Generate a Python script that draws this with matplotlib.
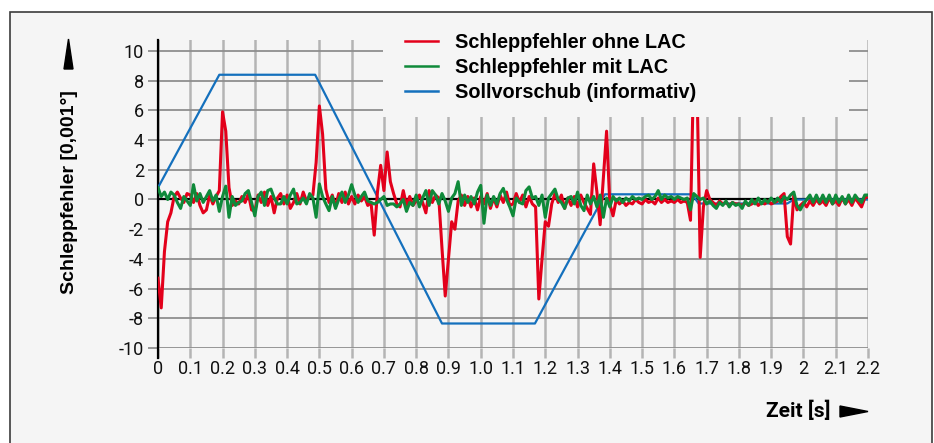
import numpy as np
import matplotlib
matplotlib.use('Agg')
import matplotlib.pyplot as plt
from matplotlib.patches import Rectangle, Polygon

plt.rcParams['axes.unicode_minus'] = False

# --- data --- #
t = np.round(np.arange(0, 2.201, 0.01), 2)

# Schleppfehler ohne LAC, one row per 0.1 s
err_ohne = [
    -5.3, -7.3, -3.5, -1.5, -0.9, 0.2, 0.5, 0.1, -0.2, 0.4,
    0.3, -0.2, 0.4, -0.4, -0.9, -0.7, 0.3, -0.3, 0.2, 0.6,
    5.9, 4.6, 0.8, -0.4, -0.1, -0.3, 0.2, -0.2, 0.4, -0.7,
    -0.8, 0.3, -0.2, 0.5, -0.4, 0.2, -0.9, 0.1, 0.4, -0.3,
    0.3, -0.6, -0.2, 0.4, -0.3, 0.5, -0.1, 0.2, 0.3, 2.5,
    6.3, 4.4, 0.7, -0.2, 0.3, -0.5, 0.4, -0.2, 0.5, -0.3,
    0.2, -0.3, 0.3, -0.1, 0.2, -0.4, -0.2, -2.4, 0.5, 2.3,
    0.6, 3.2, 1.2, 0.4, -0.3, -0.5, 0.6, -0.4, 0.2, -0.4,
    -0.1, 0.3, -0.2, -0.9, 0.6, -0.2, 0.3, 0.1, -3.3, -6.5,
    -4.0, -1.5, -2.0, -0.1, 0.3, -0.4, 0.2, -0.5, 0.1, -0.7,
    0.2, -0.3, 0.4, -0.6, 0.1, -0.5, 0.3, -0.2, 0.5, -0.4,
    -0.3, 0.4, -0.2, 0.3, -0.5, 0.2, -0.3, -0.5, -6.7, -4.0,
    -1.5, -1.8, -0.3, 0.4, -0.2, 0.3, -0.6, 0.1, -0.4, 0.2,
    -0.5, 0.3, -0.2, -0.6, -1.0, 2.4, 0.5, -1.7, 1.5, 4.6,
    -0.3, -1.1, 0.0, -0.3, -0.1, -0.4, -0.2, -0.3, 0.0, -0.2,
    -0.3, 0.0, -0.2, -0.1, -0.3, 0.1, -0.2, 0.0, -0.2, -0.1,
    -0.2, 0.0, -0.2, -0.1, -0.2, -1.4, 9.0, 8.0, -3.9, -0.5,
    0.6, 0.0, -0.2, -0.4, -0.1, -0.3, -0.2, -0.4, -0.2, -0.3,
    -0.3, -0.4, -0.2, -0.4, -0.3, -0.1, -0.4, -0.2, -0.3, -0.1,
    -0.3, -0.2, -0.1, 0.2, 0.4, -2.5, -3.0, 0.3, -0.7, -0.4,
    -0.2, -0.5, -0.1, -0.4, 0.0, -0.3, -0.1, -0.4, 0.1, -0.3,
    -0.1, -0.4, 0.1, -0.3, 0.0, -0.4, 0.1, -0.2, -0.5, 0.1,
    0.2,
]

# Schleppfehler mit LAC
err_mit = [
    0.8, 0.2, 0.5, 0.0, 0.5, 0.3, -0.2, -0.6, 0.2, -0.1,
    -0.4, 1.0, -0.1, 0.4, -0.2, 0.2, 0.6, -0.1, 0.3, -0.8,
    0.2, 0.9, -1.2, 0.2, -0.4, -0.2, -0.1, 0.4, 0.6, -0.2,
    -1.1, 0.2, 0.5, -0.4, 0.6, 0.7, 0.1, -0.3, -0.3, 0.2,
    -0.3, 0.3, 0.7, -0.3, -0.2, 0.1, -0.3, 0.4, 0.1, -1.2,
    1.05, 0.2, -0.3, -0.75, 0.2, -0.6, 0.0, 0.5, -0.2, 0.3,
    1.0, 0.3, -0.2, 0.2, 0.5, -0.1, -0.2, -0.3, -0.2, 0.0,
    0.2, -0.4, -0.3, -0.3, -0.5, -0.3, 0.0, -0.8, -0.2, -0.4,
    0.3, -0.5, 0.1, 0.6, -0.4, 0.6, 0.3, -0.3, 0.4, -0.1,
    -0.8, 0.1, 0.4, 1.2, -0.4, 0.3, -0.2, 0.2, -0.3, 0.5,
    0.95, -1.6, 0.3, -0.4, 0.2, -0.3, 0.4, 0.75, 0.0, -0.5,
    -1.1, 0.1, -0.2, -0.3, 0.6, 0.85, 0.1, 0.2, -0.4, 0.3,
    -1.2, 0.1, 0.4, 0.7, 0.0, -0.2, -0.6, 0.1, 0.2, -0.3,
    0.5, -0.4, -0.75, 0.3, -0.3, 0.2, -0.5, 0.3, -1.2, 0.1,
    -0.5, 0.2, -0.1, 0.1, -0.2, 0.1, -0.1, 0.2, 0.0, 0.1,
    0.0, 0.2, 0.3, 0.0, 0.2, 0.6, 0.0, 0.3, 0.1, 0.2,
    0.0, 0.2, 0.1, 0.0, 0.1, -0.7, 0.4, 0.2, 0.0, 0.1,
    -0.3, -0.1, -0.4, -0.6, -0.2, -0.4, -0.1, -0.5, -0.2, -0.4,
    -0.3, -0.6, -0.1, -0.4, 0.0, -0.3, 0.1, -0.3, 0.0, -0.2,
    0.1, -0.2, 0.1, -0.2, 0.2, 0.0, 0.3, 0.5, -0.4, -0.7,
    -0.3, 0.0, 0.3, -0.2, 0.3, -0.2, 0.3, -0.2, 0.3, -0.3,
    0.3, -0.2, 0.2, -0.3, 0.3, -0.2, 0.3, 0.0, -0.2, 0.3,
    0.3,
]

# Sollvorschub (informativ), corner points of the profile
soll_t = [0, 0.19, 0.487, 0.88, 1.168, 1.385, 1.655, 1.675, 1.95, 1.97, 2.2]
soll_y = [0.8, 8.4, 8.4, -8.35, -8.35, 0.35, 0.35, -0.27, -0.27, 0.0, 0.0]

labels = ['Schleppfehler ohne LAC', 'Schleppfehler mit LAC', 'Sollvorschub (informativ)']
x_ticks = np.round(np.arange(0, 2.21, 0.1), 1)
x_ticklabels = ['0', '0.1', '0.2', '0.3', '0.4', '0.5', '0.6', '0.7', '0.8', '0.9', '1.0',
                '1.1', '1.2', '1.3', '1.4', '1.5', '1.6', '1.7', '1.8', '1.9', '2', '2.1', '2.2']
y_ticks = list(range(-10, 11, 2))

# --- plotting --- #
W, H = 934, 443
bg = '#f5f5f5'
fig = plt.figure(figsize=(W / 100, H / 100), dpi=100, facecolor='white')

# panel frame
fig.patches.append(Rectangle((10 / W, -0.05), (932 - 10) / W, 1 - 12 / H + 0.05,
                             transform=fig.transFigure, facecolor=bg,
                             edgecolor='#3c3c3c', lw=1.2, zorder=-5))

ax = fig.add_axes([158 / W, 1 - 348 / H, 710 / W, (348 - 40) / H])
ax.set_zorder(1)
ax.patch.set_visible(False)
for s in ax.spines.values():
    s.set_visible(False)

ax.set_xlim(0, 2.2)
ax.set_ylim(-10, 10.74)
ax.set_xticks(x_ticks)
ax.set_xticklabels(x_ticklabels)
ax.set_yticks(y_ticks)

ax.xaxis.grid(True, color='#b4b4b4', lw=1.8, zorder=0)
ax.yaxis.grid(True, color='#8e8e8e', lw=1.3, zorder=0)
ax.set_axisbelow(True)
ax.tick_params(axis='x', length=7, width=1.8, color='#b4b4b4', pad=2)
ax.tick_params(axis='y', length=7, width=1.3, color='#8e8e8e', pad=3)

for label in ax.get_xticklabels() + ax.get_yticklabels():
    label.set_fontfamily('Roboto')
    label.set_fontweight('normal')
    label.set_fontsize(13)
    label.set_color('#111111')

ax.axhline(0, color='black', lw=1.6, zorder=1.5)
ax.axvline(0, ymin=-0.033, ymax=1, color='black', lw=1.6, clip_on=False, zorder=1.5)

p = []
p.append(ax.plot(soll_t, soll_y, color='#1470bd', lw=1.6, zorder=2))
p.append(ax.plot(t, err_ohne, color='#e3001b', lw=2.2, zorder=3))
p.append(ax.plot(t, err_mit, color='#0f8a3a', lw=2.2, zorder=3.5))

# legend area hides the grid
ax.add_patch(Rectangle((0.317, 0.75), 0.656, 0.3, transform=ax.transAxes,
                       facecolor=bg, edgecolor='none', zorder=4, clip_on=False))

leg = ax.legend((p[1][0], p[2][0], p[0][0]), labels,
                loc='upper left', bbox_to_anchor=(405 / W, 1 - 33 / H),
                bbox_transform=fig.transFigure, frameon=False,
                prop={'family': 'Liberation Sans', 'weight': 'bold', 'size': 14.3},
                borderpad=0, borderaxespad=0, handlelength=1.65,
                handletextpad=0.85, labelspacing=0.3)
leg.set_zorder(5)
for line in leg.get_lines():
    line.set_linewidth(1.8)

# axis labels with arrows
fig.text(69 / W, 1 - 192 / H, 'Schleppfehler [0,001°]', rotation=90,
         ha='center', va='center', fontsize=14, fontweight='bold',
         family='Liberation Sans')
fig.patches.append(Polygon([(64 / W, 1 - 69 / H), (73 / W, 1 - 69 / H), (68.5 / W, 1 - 39 / H)],
                           closed=True, transform=fig.transFigure, color='black'))

fig.text(830 / W, 1 - 411 / H, 'Zeit [s]', ha='right', va='center',
         fontsize=15, fontweight='bold', family='Roboto')
fig.patches.append(Polygon([(840 / W, 1 - 406 / H), (840 / W, 1 - 417 / H), (868 / W, 1 - 411.5 / H)],
                           closed=True, transform=fig.transFigure, color='black'))

fig.savefig('out.png', dpi=100, facecolor=fig.get_facecolor())
